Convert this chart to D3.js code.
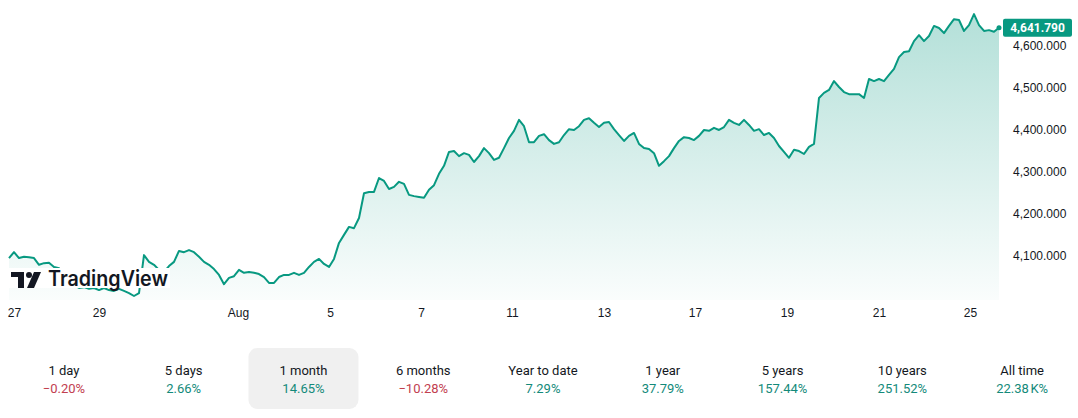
<!DOCTYPE html>
<html lang="en">
<head>
<meta charset="utf-8">
<title>Index - 1 month</title>
<script src="https://cdn.jsdelivr.net/npm/d3@7"></script>
<style>
  body { margin: 0; background: #fff; }
  svg { display: block; font-family: Roboto, "Liberation Sans", sans-serif; }
  .axis text { fill: #131722; font-size: 12px; }
  .axis path, .axis line { display: none; }
  .plabel { font-size: 13px; fill: #131722; }
  .pvalue { font-size: 13px; }
</style>
</head>
<body>
<script>
// closing values, one every few minutes
var closes = [
  4095,4109,4095,4098,4097,4095,4079,4083,4084,4074,
  4071,4057,4043,4031,4024,4026,4022,4024,4019,4024,
  4019,4017,4022,4017,4012,4005,4012,4102,4086,4079,
  4067,4062,4076,4086,4112,4109,4114,4109,4098,4086,
  4079,4069,4055,4033,4048,4052,4067,4060,4062,4060,
  4057,4050,4036,4036,4050,4055,4055,4060,4055,4060,
  4074,4086,4093,4081,4074,4093,4131,4150,4169,4166,
  4190,4249,4252,4252,4285,4278,4259,4264,4276,4271,
  4245,4242,4240,4238,4257,4268,4295,4314,4347,4349,
  4337,4344,4340,4323,4337,4356,4344,4328,4333,4356,
  4380,4397,4423,4408,4370,4370,4385,4389,4375,4366,
  4370,4387,4401,4399,4408,4423,4427,4416,4406,4416,
  4418,4401,4387,4373,4385,4392,4366,4356,4354,4344,
  4314,4325,4337,4356,4373,4382,4380,4375,4385,4399,
  4397,4404,4399,4406,4423,4416,4411,4423,4411,4397,
  4401,4387,4392,4380,4361,4347,4333,4352,4349,4342,
  4359,4366,4475,4487,4494,4515,4501,4489,4484,4484,
  4484,4475,4520,4515,4520,4515,4530,4544,4572,4584,
  4586,4610,4624,4610,4622,4646,4641,4629,4646,4662,
  4660,4634,4648,4674,4648,4634,4636,4632,4641.79
];

// day labels and where they fall along the series
var tickLabels = ["27", "29", "Aug", "5", "7", "11", "13", "17", "19", "21", "25"];
var tickPos = [1, 18, 45.8, 64.2, 82.4, 100.6, 119, 137.2, 155.6, 174, 192.2];
var priceTicks = [4100, 4200, 4300, 4400, 4500, 4600];

// performance strip
var periods = ["1 day", "5 days", "1 month", "6 months", "Year to date", "1 year", "5 years", "10 years", "All time"];
var changes = ["\u22120.20%", "2.66%", "14.65%", "\u221210.28%", "7.29%", "37.79%", "157.44%", "251.52%", "22.38\u202FK%"];
var activePeriod = "1 month";

var w = 1078, h = 418;
var green = "#089981";
var red = "#c2404f";

var svg = d3.select("body").append("svg").attr("width", w).attr("height", h);

var xScale = d3.scaleLinear().domain([0, closes.length - 1]).range([9, 999]);
var yScale = d3.scaleLinear().domain([3995.5, 4707.5]).range([300, 0]);

// gradient under the line
var grad = svg.append("defs").append("linearGradient")
  .attr("id", "fillGrad")
  .attr("gradientUnits", "userSpaceOnUse")
  .attr("x1", 0).attr("y1", 0).attr("x2", 0).attr("y2", 300);
grad.append("stop").attr("offset", "0%").attr("stop-color", green).attr("stop-opacity", 0.32);
grad.append("stop").attr("offset", "100%").attr("stop-color", green).attr("stop-opacity", 0.02);

var area = d3.area()
  .x(function(d, i) { return xScale(i); })
  .y0(yScale.range()[0])
  .y1(function(d) { return yScale(d); });

var line = d3.line()
  .x(function(d, i) { return xScale(i); })
  .y(function(d) { return yScale(d); });

svg.append("path").datum(closes).attr("d", area).attr("fill", "url(#fillGrad)");
svg.append("path").datum(closes).attr("d", line)
  .attr("fill", "none").attr("stroke", green).attr("stroke-width", 2)
  .attr("stroke-linejoin", "round");

var last = closes[closes.length - 1];
svg.append("circle").attr("cx", xScale(closes.length - 1)).attr("cy", yScale(last))
  .attr("r", 2.5).attr("fill", green);

// watermark, sits on top of the line
var logo = svg.append("g").attr("transform", "translate(10,268)");
logo.append("rect").attr("x", -2).attr("y", 0).attr("width", 162).attr("height", 20).attr("fill", "#fff");
logo.append("path").attr("d", "M1,4 H14 V20 H8 V9 H1 Z").attr("fill", "#131722");
logo.append("circle").attr("cx", 19).attr("cy", 7).attr("r", 3).attr("fill", "#131722");
logo.append("path").attr("d", "M24,4 H31 L24,20 H17 Z").attr("fill", "#131722");
logo.append("text").attr("x", 38).attr("y", 18)
  .attr("font-family", "Inter, Roboto, sans-serif").attr("font-weight", 600)
  .attr("font-size", 21).attr("textLength", 120).attr("lengthAdjust", "spacingAndGlyphs")
  .attr("fill", "#131722").text("TradingView");

// axes
var xAxis = d3.axisBottom(xScale).tickValues(tickPos)
  .tickFormat(function(d, i) { return tickLabels[i]; })
  .tickSize(0).tickPadding(8);
svg.append("g").attr("class", "axis").attr("transform", "translate(0,300)").call(xAxis);

var yAxis = d3.axisRight(yScale).tickValues(priceTicks)
  .tickFormat(d3.format(",.3f")).tickSize(0).tickPadding(0);
svg.append("g").attr("class", "axis").attr("transform", "translate(1013,0)").call(yAxis);

// last price tag
var tag = svg.append("g").attr("transform", "translate(1003," + (yScale(last) - 9) + ")");
tag.append("rect").attr("width", 69).attr("height", 18).attr("rx", 2).attr("fill", green);
tag.append("text").attr("x", 34.5).attr("y", 13).attr("text-anchor", "middle")
  .attr("fill", "#fff").attr("font-size", 12).attr("font-weight", 700)
  .text(d3.format(",.3f")(last));

// performance strip
var band = d3.scaleBand().domain(periods).range([4, 1082]);

var cells = svg.append("g").selectAll("g").data(periods).enter().append("g")
  .attr("transform", function(d) { return "translate(" + (band(d) + band.bandwidth() / 2) + ",0)"; });

cells.filter(function(d) { return d === activePeriod; })
  .append("rect").attr("x", -55).attr("y", 348).attr("width", 110).attr("height", 61)
  .attr("rx", 9).attr("fill", "#f0f0f0");

cells.append("text").attr("class", "plabel").attr("text-anchor", "middle").attr("y", 375)
  .text(function(d) { return d; });

cells.append("text").attr("class", "pvalue").attr("text-anchor", "middle").attr("y", 393)
  .attr("fill", function(d, i) { return changes[i].charAt(0) === "\u2212" ? red : "#138a7a"; })
  .text(function(d, i) { return changes[i]; });
</script>
</body>
</html>
